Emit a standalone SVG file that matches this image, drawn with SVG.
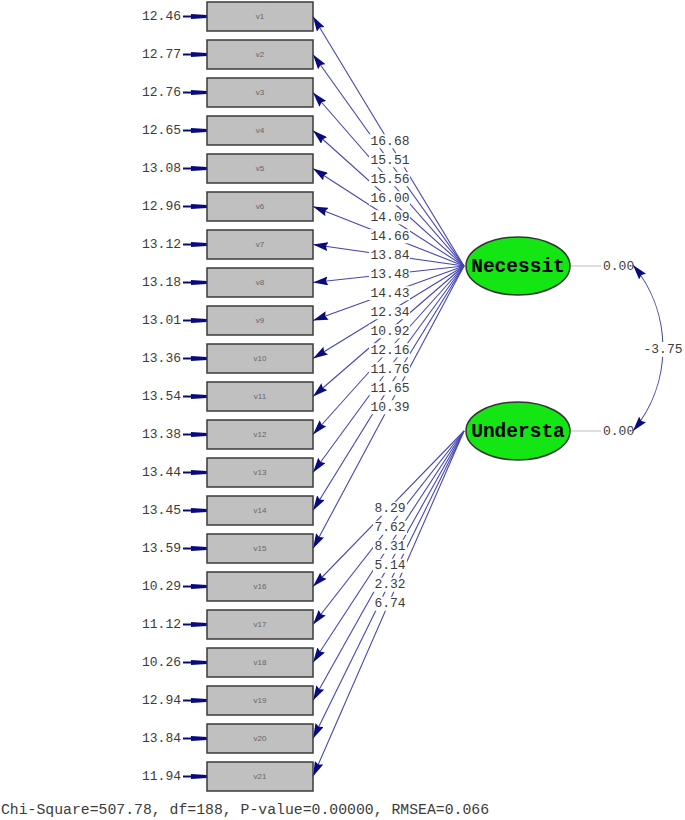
<svg xmlns="http://www.w3.org/2000/svg" width="685" height="820" viewBox="0 0 685 820">
<style>
.box{fill:#c0c0c0;stroke:#3a3a3a;stroke-width:1.5}
.bl{font-family:"Liberation Sans",Arial,sans-serif;font-size:8px;fill:#666;text-anchor:middle;dominant-baseline:central}
.num{font-family:"Liberation Mono","Courier New",monospace;font-size:13px;fill:#3c3c3c;dominant-baseline:central}
.err{text-anchor:end}
.mid{text-anchor:middle}
.ea{stroke:#0a0a80;stroke-width:2;fill:none}
.ld{stroke:#4646b4;stroke-width:1.1;fill:none}
.bg{fill:#fff}
.lat{fill:#14e614;stroke:#333;stroke-width:1.5}
.lt{font-family:"Liberation Mono","Courier New",monospace;font-size:19.5px;font-weight:bold;fill:#000;text-anchor:middle;dominant-baseline:central}
.gl{stroke:#c8c8c8;stroke-width:1.2}
</style>
<defs>
<marker id="ah" viewBox="0 0 15 9" refX="15" refY="4.5" markerWidth="15" markerHeight="9" markerUnits="userSpaceOnUse" orient="auto"><path d="M0,0 L15,4.5 L0,9 L2,4.5 z" fill="#0a0a80"/></marker>
<marker id="ahs" viewBox="0 0 15 9" refX="15" refY="4.5" markerWidth="15" markerHeight="9" markerUnits="userSpaceOnUse" orient="auto-start-reverse"><path d="M0,0 L15,4.5 L0,9 L2,4.5 z" fill="#0a0a80"/></marker>
<marker id="eh" viewBox="0 0 16 6" refX="16" refY="3" markerWidth="16" markerHeight="6" markerUnits="userSpaceOnUse" orient="auto"><path d="M0,0.5 L16,1.5 L16,4.5 L0,5.5 z" fill="#0a0a80"/></marker>
</defs>

<g id="connectors">
<g id="loadings">
<line class="ld" x1="464" y1="266" x2="313" y2="16.5" marker-end="url(#ah)"/>
<line class="ld" x1="464" y1="266" x2="313" y2="54.5" marker-end="url(#ah)"/>
<line class="ld" x1="464" y1="266" x2="313" y2="92.5" marker-end="url(#ah)"/>
<line class="ld" x1="464" y1="266" x2="313" y2="130.5" marker-end="url(#ah)"/>
<line class="ld" x1="464" y1="266" x2="313" y2="168.5" marker-end="url(#ah)"/>
<line class="ld" x1="464" y1="266" x2="313" y2="206.5" marker-end="url(#ah)"/>
<line class="ld" x1="464" y1="266" x2="313" y2="244.5" marker-end="url(#ah)"/>
<line class="ld" x1="464" y1="266" x2="313" y2="282.5" marker-end="url(#ah)"/>
<line class="ld" x1="464" y1="266" x2="313" y2="320.5" marker-end="url(#ah)"/>
<line class="ld" x1="464" y1="266" x2="313" y2="358.5" marker-end="url(#ah)"/>
<line class="ld" x1="464" y1="266" x2="313" y2="396.5" marker-end="url(#ah)"/>
<line class="ld" x1="464" y1="266" x2="313" y2="434.5" marker-end="url(#ah)"/>
<line class="ld" x1="464" y1="266" x2="313" y2="472.5" marker-end="url(#ah)"/>
<line class="ld" x1="464" y1="266" x2="313" y2="510.5" marker-end="url(#ah)"/>
<line class="ld" x1="464" y1="266" x2="313" y2="548.5" marker-end="url(#ah)"/>
<line class="ld" x1="464" y1="431" x2="313" y2="586.5" marker-end="url(#ah)"/>
<line class="ld" x1="464" y1="431" x2="313" y2="624.5" marker-end="url(#ah)"/>
<line class="ld" x1="464" y1="431" x2="313" y2="662.5" marker-end="url(#ah)"/>
<line class="ld" x1="464" y1="431" x2="313" y2="700.5" marker-end="url(#ah)"/>
<line class="ld" x1="464" y1="431" x2="313" y2="738.5" marker-end="url(#ah)"/>
<line class="ld" x1="464" y1="431" x2="313" y2="776.5" marker-end="url(#ah)"/>
</g>
<g id="loading-labels">
<rect class="bg" x="369" y="134.25" width="41" height="14"/><text class="num mid" x="390" y="141.25">16.68</text>
<rect class="bg" x="369" y="153.25" width="41" height="14"/><text class="num mid" x="390" y="160.25">15.51</text>
<rect class="bg" x="369" y="172.25" width="41" height="14"/><text class="num mid" x="390" y="179.25">15.56</text>
<rect class="bg" x="369" y="191.25" width="41" height="14"/><text class="num mid" x="390" y="198.25">16.00</text>
<rect class="bg" x="369" y="210.25" width="41" height="14"/><text class="num mid" x="390" y="217.25">14.09</text>
<rect class="bg" x="369" y="229.25" width="41" height="14"/><text class="num mid" x="390" y="236.25">14.66</text>
<rect class="bg" x="369" y="248.25" width="41" height="14"/><text class="num mid" x="390" y="255.25">13.84</text>
<rect class="bg" x="369" y="267.25" width="41" height="14"/><text class="num mid" x="390" y="274.25">13.48</text>
<rect class="bg" x="369" y="286.25" width="41" height="14"/><text class="num mid" x="390" y="293.25">14.43</text>
<rect class="bg" x="369" y="305.25" width="41" height="14"/><text class="num mid" x="390" y="312.25">12.34</text>
<rect class="bg" x="369" y="324.25" width="41" height="14"/><text class="num mid" x="390" y="331.25">10.92</text>
<rect class="bg" x="369" y="343.25" width="41" height="14"/><text class="num mid" x="390" y="350.25">12.16</text>
<rect class="bg" x="369" y="362.25" width="41" height="14"/><text class="num mid" x="390" y="369.25">11.76</text>
<rect class="bg" x="369" y="381.25" width="41" height="14"/><text class="num mid" x="390" y="388.25">11.65</text>
<rect class="bg" x="369" y="400.25" width="41" height="14"/><text class="num mid" x="390" y="407.25">10.39</text>
<rect class="bg" x="373" y="501.75" width="34" height="14"/><text class="num mid" x="390" y="508.75">8.29</text>
<rect class="bg" x="373" y="520.75" width="34" height="14"/><text class="num mid" x="390" y="527.75">7.62</text>
<rect class="bg" x="373" y="539.75" width="34" height="14"/><text class="num mid" x="390" y="546.75">8.31</text>
<rect class="bg" x="373" y="558.75" width="34" height="14"/><text class="num mid" x="390" y="565.75">5.14</text>
<rect class="bg" x="373" y="577.75" width="34" height="14"/><text class="num mid" x="390" y="584.75">2.32</text>
<rect class="bg" x="373" y="596.75" width="34" height="14"/><text class="num mid" x="390" y="603.75">6.74</text>
</g>
<g id="errors">
<line class="ea" x1="183" y1="16.5" x2="207" y2="16.5" marker-end="url(#eh)"/>
<line class="ea" x1="183" y1="54.5" x2="207" y2="54.5" marker-end="url(#eh)"/>
<line class="ea" x1="183" y1="92.5" x2="207" y2="92.5" marker-end="url(#eh)"/>
<line class="ea" x1="183" y1="130.5" x2="207" y2="130.5" marker-end="url(#eh)"/>
<line class="ea" x1="183" y1="168.5" x2="207" y2="168.5" marker-end="url(#eh)"/>
<line class="ea" x1="183" y1="206.5" x2="207" y2="206.5" marker-end="url(#eh)"/>
<line class="ea" x1="183" y1="244.5" x2="207" y2="244.5" marker-end="url(#eh)"/>
<line class="ea" x1="183" y1="282.5" x2="207" y2="282.5" marker-end="url(#eh)"/>
<line class="ea" x1="183" y1="320.5" x2="207" y2="320.5" marker-end="url(#eh)"/>
<line class="ea" x1="183" y1="358.5" x2="207" y2="358.5" marker-end="url(#eh)"/>
<line class="ea" x1="183" y1="396.5" x2="207" y2="396.5" marker-end="url(#eh)"/>
<line class="ea" x1="183" y1="434.5" x2="207" y2="434.5" marker-end="url(#eh)"/>
<line class="ea" x1="183" y1="472.5" x2="207" y2="472.5" marker-end="url(#eh)"/>
<line class="ea" x1="183" y1="510.5" x2="207" y2="510.5" marker-end="url(#eh)"/>
<line class="ea" x1="183" y1="548.5" x2="207" y2="548.5" marker-end="url(#eh)"/>
<line class="ea" x1="183" y1="586.5" x2="207" y2="586.5" marker-end="url(#eh)"/>
<line class="ea" x1="183" y1="624.5" x2="207" y2="624.5" marker-end="url(#eh)"/>
<line class="ea" x1="183" y1="662.5" x2="207" y2="662.5" marker-end="url(#eh)"/>
<line class="ea" x1="183" y1="700.5" x2="207" y2="700.5" marker-end="url(#eh)"/>
<line class="ea" x1="183" y1="738.5" x2="207" y2="738.5" marker-end="url(#eh)"/>
<line class="ea" x1="183" y1="776.5" x2="207" y2="776.5" marker-end="url(#eh)"/>
<text class="num err" x="181" y="16.5">12.46</text>
<text class="num err" x="181" y="54.5">12.77</text>
<text class="num err" x="181" y="92.5">12.76</text>
<text class="num err" x="181" y="130.5">12.65</text>
<text class="num err" x="181" y="168.5">13.08</text>
<text class="num err" x="181" y="206.5">12.96</text>
<text class="num err" x="181" y="244.5">13.12</text>
<text class="num err" x="181" y="282.5">13.18</text>
<text class="num err" x="181" y="320.5">13.01</text>
<text class="num err" x="181" y="358.5">13.36</text>
<text class="num err" x="181" y="396.5">13.54</text>
<text class="num err" x="181" y="434.5">13.38</text>
<text class="num err" x="181" y="472.5">13.44</text>
<text class="num err" x="181" y="510.5">13.45</text>
<text class="num err" x="181" y="548.5">13.59</text>
<text class="num err" x="181" y="586.5">10.29</text>
<text class="num err" x="181" y="624.5">11.12</text>
<text class="num err" x="181" y="662.5">10.26</text>
<text class="num err" x="181" y="700.5">12.94</text>
<text class="num err" x="181" y="738.5">13.84</text>
<text class="num err" x="181" y="776.5">11.94</text>
</g>
<g id="latent-variances">
<line class="gl" x1="570" y1="266" x2="601" y2="266"/>
<line class="gl" x1="570" y1="431" x2="601" y2="431"/>
<text class="num" x="603" y="266.5">0.00</text>
<text class="num" x="603" y="431.5">0.00</text>
</g>
<g id="covariance">
<path class="ld" d="M633,265 A130,130 0 0 1 633,431" marker-start="url(#ahs)" marker-end="url(#ahs)"/>
<rect class="bg" x="643" y="342" width="40" height="15"/>
<text class="num mid" x="663" y="349.5">-3.75</text>
</g>
</g>

<g id="v1"><rect class="box" x="207" y="2" width="106" height="29"/><text class="bl" x="260" y="16.5">v1</text></g>
<g id="v2"><rect class="box" x="207" y="40" width="106" height="29"/><text class="bl" x="260" y="54.5">v2</text></g>
<g id="v3"><rect class="box" x="207" y="78" width="106" height="29"/><text class="bl" x="260" y="92.5">v3</text></g>
<g id="v4"><rect class="box" x="207" y="116" width="106" height="29"/><text class="bl" x="260" y="130.5">v4</text></g>
<g id="v5"><rect class="box" x="207" y="154" width="106" height="29"/><text class="bl" x="260" y="168.5">v5</text></g>
<g id="v6"><rect class="box" x="207" y="192" width="106" height="29"/><text class="bl" x="260" y="206.5">v6</text></g>
<g id="v7"><rect class="box" x="207" y="230" width="106" height="29"/><text class="bl" x="260" y="244.5">v7</text></g>
<g id="v8"><rect class="box" x="207" y="268" width="106" height="29"/><text class="bl" x="260" y="282.5">v8</text></g>
<g id="v9"><rect class="box" x="207" y="306" width="106" height="29"/><text class="bl" x="260" y="320.5">v9</text></g>
<g id="v10"><rect class="box" x="207" y="344" width="106" height="29"/><text class="bl" x="260" y="358.5">v10</text></g>
<g id="v11"><rect class="box" x="207" y="382" width="106" height="29"/><text class="bl" x="260" y="396.5">v11</text></g>
<g id="v12"><rect class="box" x="207" y="420" width="106" height="29"/><text class="bl" x="260" y="434.5">v12</text></g>
<g id="v13"><rect class="box" x="207" y="458" width="106" height="29"/><text class="bl" x="260" y="472.5">v13</text></g>
<g id="v14"><rect class="box" x="207" y="496" width="106" height="29"/><text class="bl" x="260" y="510.5">v14</text></g>
<g id="v15"><rect class="box" x="207" y="534" width="106" height="29"/><text class="bl" x="260" y="548.5">v15</text></g>
<g id="v16"><rect class="box" x="207" y="572" width="106" height="29"/><text class="bl" x="260" y="586.5">v16</text></g>
<g id="v17"><rect class="box" x="207" y="610" width="106" height="29"/><text class="bl" x="260" y="624.5">v17</text></g>
<g id="v18"><rect class="box" x="207" y="648" width="106" height="29"/><text class="bl" x="260" y="662.5">v18</text></g>
<g id="v19"><rect class="box" x="207" y="686" width="106" height="29"/><text class="bl" x="260" y="700.5">v19</text></g>
<g id="v20"><rect class="box" x="207" y="724" width="106" height="29"/><text class="bl" x="260" y="738.5">v20</text></g>
<g id="v21"><rect class="box" x="207" y="762" width="106" height="29"/><text class="bl" x="260" y="776.5">v21</text></g>

<g id="Necessit"><ellipse class="lat" cx="518" cy="266" rx="52" ry="29"/><text class="lt" x="518" y="267">Necessit</text></g>
<g id="Understa"><ellipse class="lat" cx="518" cy="431" rx="52" ry="29"/><text class="lt" x="518" y="432">Understa</text></g>

<text id="fit" x="1" y="810" font-family="Liberation Mono, Courier New, monospace" font-size="14.5" fill="#3c3c3c" dominant-baseline="central" textLength="488" lengthAdjust="spacingAndGlyphs">Chi-Square=507.78, df=188, P-value=0.00000, RMSEA=0.066</text>
</svg>
